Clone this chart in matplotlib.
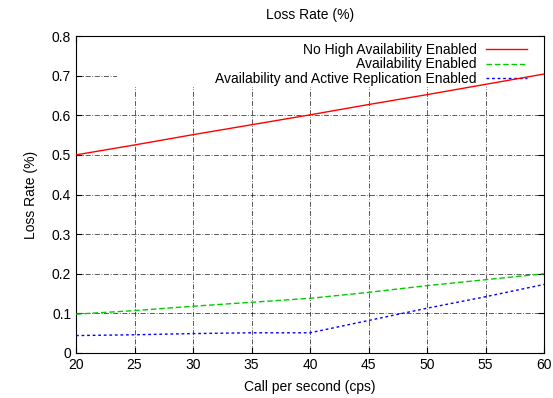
import matplotlib
matplotlib.use("Agg")
import matplotlib.pyplot as plt
from matplotlib.patches import Rectangle

plt.rcParams['font.family'] = ['Liberation Sans', 'DejaVu Sans']

cps = [20, 25, 30, 35, 40, 45, 50, 55, 60]
no_ha = [0.50, 0.525, 0.551, 0.576, 0.601, 0.627, 0.652, 0.678, 0.704]
ha = [0.098, 0.107, 0.118, 0.128, 0.138, 0.153, 0.170, 0.185, 0.200]
ha_repl = [0.044, 0.046, 0.049, 0.051, 0.051, 0.082, 0.113, 0.142, 0.173]

labels = ['No High Availability Enabled', 'Availability Enabled',
          'Availability and Active Replication Enabled']

fig = plt.figure(figsize=(5.53, 3.98), dpi=100)
ax = fig.add_axes([76/553, 1 - 353/398, (544-76)/553, (353-36)/398])

ax.plot(cps, no_ha, color='#ff0000', lw=1.0, label=labels[0], zorder=3)
ax.plot(cps, ha, color='#00cc00', lw=1.0, ls=(0, (4, 2)), label=labels[1], zorder=3)
ax.plot(cps, ha_repl, color='#0000ff', lw=1.0, ls=(0, (2, 2)), label=labels[2], zorder=3)

ax.set_xlim(20, 60)
ax.set_ylim(0, 0.8)
ax.set_xticks(cps)
ax.set_yticks([0, 0.1, 0.2, 0.3, 0.4, 0.5, 0.6, 0.7, 0.8])
ax.set_yticklabels(['0', '0.1', '0.2', '0.3', '0.4', '0.5', '0.6', '0.7', '0.8'])
ax.grid(True, color='black', lw=0.6, ls=(0, (6, 2, 1, 2)), alpha=0.75, zorder=1)
ax.set_axisbelow(True)
ax.tick_params(direction='in', top=True, right=True, length=4, labelsize=10)
for s in ax.spines.values():
    s.set_linewidth(0.8)

# white area behind the key, as gnuplot does
ax.add_patch(Rectangle((0.087, 0.84), 0.913, 0.16, transform=ax.transAxes,
                       facecolor='white', edgecolor='none', zorder=2))

leg = ax.legend(loc='upper right', frameon=False, markerfirst=False, fontsize=10,
                handlelength=2.9, handletextpad=0.7, labelspacing=0.02,
                borderaxespad=0.0, bbox_to_anchor=(0.975, 0.995))
for t in leg.get_texts():
    t.set_ha('right')
leg.set_zorder(2.5)

ax.set_title('Loss Rate (%)', fontsize=10, pad=12)
ax.set_xlabel('Call per second (cps)', fontsize=10, labelpad=6)
ax.set_ylabel('Loss Rate (%)', fontsize=10, labelpad=10)

fig.savefig('out.png', dpi=100)
